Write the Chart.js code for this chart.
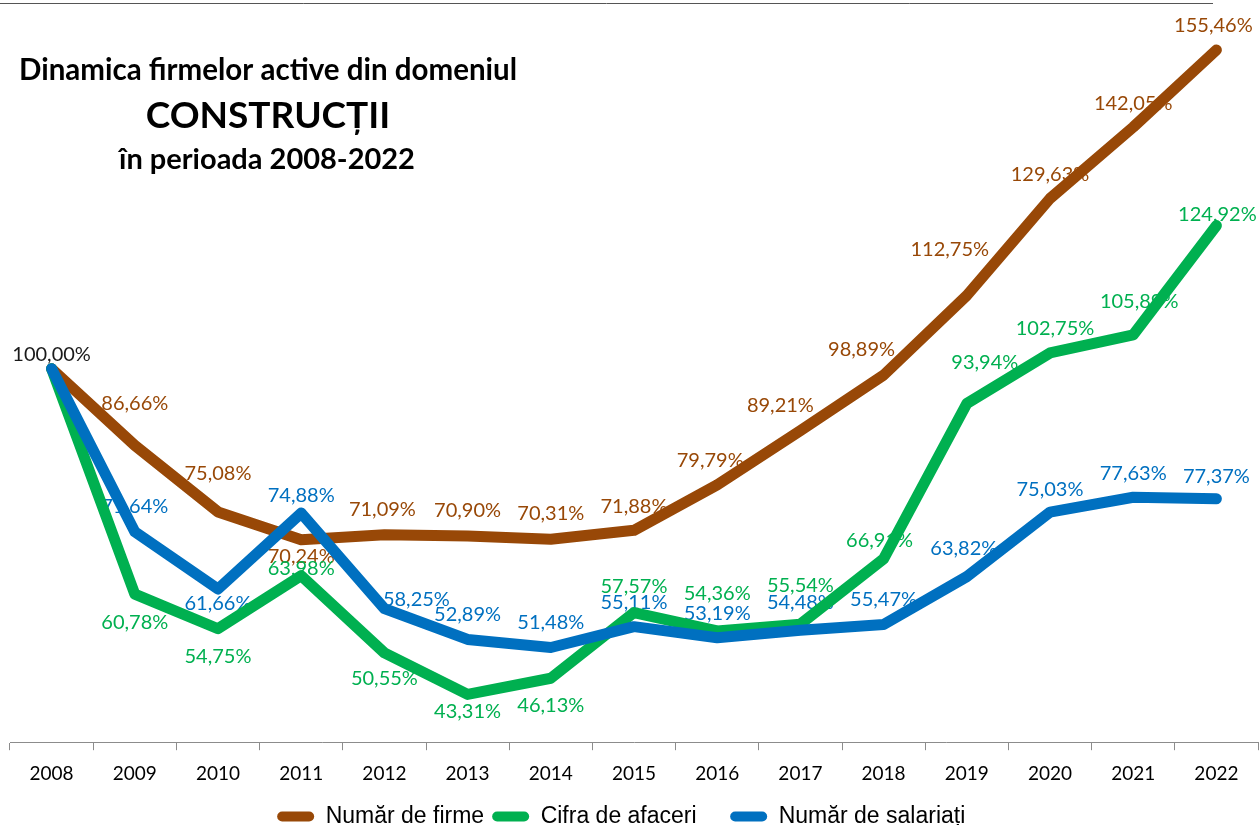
<!DOCTYPE html>
<html>
<head>
<meta charset="utf-8">
<title>Dinamica firmelor active - Construcții</title>
<script src="https://cdn.jsdelivr.net/npm/chart.js@4.4.0/dist/chart.umd.min.js"></script>
<style>
  html, body { margin: 0; padding: 0; background: #fff; overflow: hidden; }
  #wrap { width: 1260px; height: 838px; position: relative; }
</style>
</head>
<body>
<div id="wrap"><canvas id="mycanvas"></canvas></div>
<script>
// data (percent, 2008 = 100)
var years = ['2008', '2009', '2010', '2011', '2012', '2013', '2014', '2015',
             '2016', '2017', '2018', '2019', '2020', '2021', '2022'];
var numarFirme = [100.00, 86.66, 75.08, 70.24, 71.09, 70.90, 70.31, 71.88,
                  79.79, 89.21, 98.89, 112.75, 129.63, 142.05, 155.46];
var cifraAfaceri = [100.00, 60.78, 54.75, 63.98, 50.55, 43.31, 46.13, 57.57,
                    54.36, 55.54, 66.91, 93.94, 102.75, 105.89, 124.92];
var numarSalariati = [100.00, 71.64, 61.66, 74.88, 58.25, 52.89, 51.48, 55.11,
                      53.19, 54.48, 55.47, 63.82, 75.03, 77.63, 77.37];
var seriesNames = ['Număr de firme', 'Cifra de afaceri', 'Număr de salariați'];

var colBrown = '#984807';
var colGreen = '#00B050';
var colBlue = '#0070C0';

// value label placement relative to each point [dx, dy, colour override], null = no label
var labelOffsets = [
  [[0, -14, '#1a1a1a'], [0, -42], [0, -38], [0, 17], [-2, -25], [0, -25], [0, -26], [0, -24],
   [-7, -24], [-20, -25], [-22, -26], [-17, -46], [0, -24], [0, -24], [-3, -25]],
  [null, [0, 28], [0, 28], [0, -7], [0, 26], [0, 17], [0, 27], [0, -26],
   [0, -37], [0, -39], [-4, -18], [18, -41], [5, -24], [6, -33], [1, -11]],
  [null, [0, -25], [0, 15], [0, -18], [32, -9], [0, -25], [0, -25], [0, -24],
   [0, -24], [0, -28], [0, -25], [-3, -28], [0, -23], [0, -24], [0, -22]]
];
var labelColors = [colBrown, colGreen, colBlue];

function fmt(v) {
  return v.toFixed(2).replace('.', ',') + '%';
}

var valueLabels = {
  id: 'valueLabels',
  beforeDatasetsDraw: function(chart) {
    var ctx = chart.ctx;
    ctx.save();
    ctx.font = '20px Lato';
    ctx.textAlign = 'center';
    ctx.textBaseline = 'middle';
    chart.data.datasets.forEach(function(ds, i) {
      var meta = chart.getDatasetMeta(i);
      meta.data.forEach(function(pt, j) {
        var o = labelOffsets[i][j];
        if (!o) return;
        ctx.fillStyle = o[2] || labelColors[i];
        ctx.fillText(fmt(ds.data[j]), pt.x + o[0], pt.y + o[1]);
      });
    });
    ctx.restore();
  }
};

var titleBlock = {
  id: 'titleBlock',
  beforeDraw: function(chart) {
    var ctx = chart.ctx;
    ctx.save();
    ctx.fillStyle = '#fff';
    ctx.fillRect(0, 0, chart.width, chart.height);
    // thin rule at the very top
    ctx.strokeStyle = '#555';
    ctx.lineWidth = 1;
    ctx.beginPath();
    ctx.moveTo(0, 3.5);
    ctx.lineTo(1213, 3.5);
    ctx.stroke();
    ctx.fillStyle = '#000';
    ctx.textAlign = 'center';
    ctx.textBaseline = 'alphabetic';
    ctx.font = 'bold 29.5px Lato';
    ctx.fillText('Dinamica firmelor active din domeniul', 268, 80);
    ctx.font = 'bold 37px Lato';
    ctx.fillText('CONSTRUCȚII', 268, 128);
    ctx.font = 'bold 29px Lato';
    ctx.fillText('în perioada 2008-2022', 267, 169);
    ctx.restore();
  }
};

function lineSet(label, data, color, order) {
  return {
    label: label,
    data: data,
    borderColor: color,
    backgroundColor: color,
    borderWidth: 11,
    borderCapStyle: 'round',
    borderJoinStyle: 'round',
    pointRadius: 0,
    pointHoverRadius: 0,
    tension: 0,
    fill: false,
    order: order
  };
}

var ctx = document.getElementById('mycanvas');

var lineChart = new Chart(ctx, {
  type: 'line',
  data: {
    labels: years,
    datasets: [
      lineSet(seriesNames[0], numarFirme, colBrown, 3),
      lineSet(seriesNames[1], cifraAfaceri, colGreen, 2),
      lineSet(seriesNames[2], numarSalariati, colBlue, 1)
    ]
  },
  options: {
    responsive: true,
    maintainAspectRatio: false,
    animation: false,
    layout: {
      padding: { top: 24, left: 10, right: 2, bottom: 0 }
    },
    scales: {
      x: {
        offset: true,
        grid: {
          offset: true,
          drawOnChartArea: false,
          drawTicks: true,
          tickLength: 8,
          color: '#8c8c8c'
        },
        border: { display: true, color: '#8c8c8c', width: 1 },
        ticks: {
          padding: 12,
          color: '#000',
          font: { family: 'Lato', size: 19 },
          maxRotation: 0,
          autoSkip: false
        }
      },
      y: {
        display: false,
        min: 35,
        max: 160
      }
    },
    plugins: {
      title: { display: false },
      tooltip: { enabled: false },
      legend: {
        display: true,
        position: 'bottom',
        labels: {
          boxWidth: 37,
          boxHeight: 10,
          useBorderRadius: true,
          borderRadius: 5,
          padding: 8,
          color: '#000',
          font: { family: "'Liberation Sans', Arial, sans-serif", size: 23 },
          sort: function(a, b) { return a.datasetIndex - b.datasetIndex; },
          generateLabels: function(chart) {
            var items = Chart.defaults.plugins.legend.labels.generateLabels(chart);
            items.forEach(function(it, k) {
              it.lineWidth = 0;
              it.fillStyle = it.strokeStyle;
              // a little extra room before the next entry
              if (k < items.length - 1) it.text = it.text + '    ';
            });
            return items;
          }
        }
      }
    }
  },
  plugins: [titleBlock, valueLabels]
});
</script>
</body>
</html>
